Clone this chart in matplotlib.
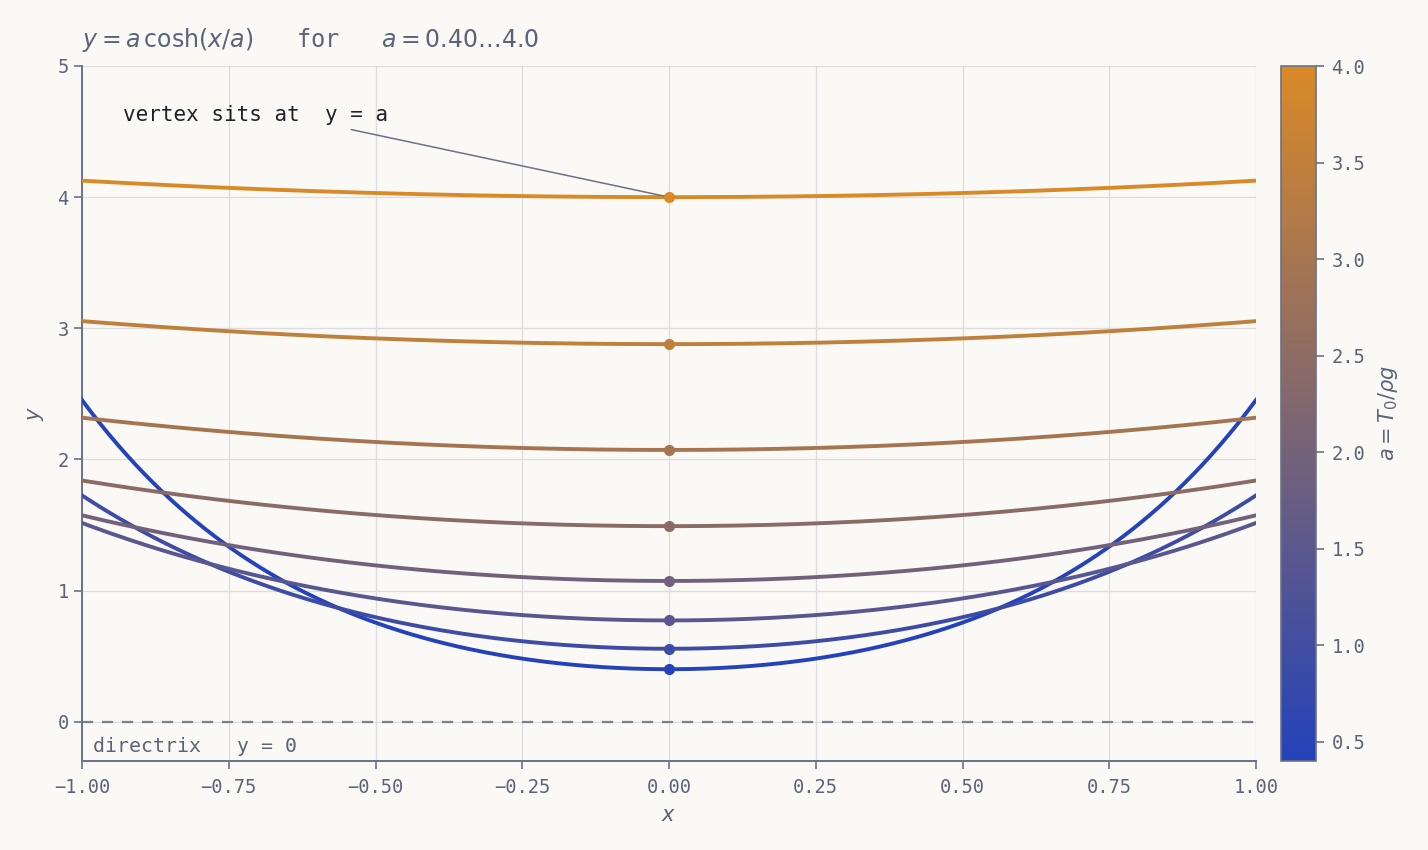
import numpy as np
import matplotlib
matplotlib.use("Agg")
import matplotlib.pyplot as plt
from matplotlib.colors import LinearSegmentedColormap, Normalize
from matplotlib.cm import ScalarMappable

# catenary parameters (a values read from the vertices)
a_values = [0.40, 0.556, 0.772, 1.073, 1.491, 2.072, 2.879, 4.00]
x_range = (-1.0, 1.0)
x_ticks = [-1.0, -0.75, -0.5, -0.25, 0.0, 0.25, 0.5, 0.75, 1.0]
y_ticks = [0, 1, 2, 3, 4, 5]
cbar_ticks = [0.5, 1.0, 1.5, 2.0, 2.5, 3.0, 3.5, 4.0]

BG = "#faf9f6"
TXT = "#5c6377"
SPINE = "#6b7286"

plt.rcParams["font.family"] = ["DejaVu Sans Mono"]
plt.rcParams["mathtext.fontset"] = "dejavusans"

cmap = LinearSegmentedColormap.from_list("bo", ["#2442b9", "#d98a28"])
norm = Normalize(vmin=min(a_values), vmax=max(a_values))

fig = plt.figure(figsize=(14.28, 8.5), dpi=100, facecolor=BG)
ax = fig.add_axes([82 / 1428, 89 / 850, 1174 / 1428, 695 / 850])
cax = fig.add_axes([1281 / 1428, 89 / 850, 35 / 1428, 695 / 850])
ax.set_facecolor(BG)

x = np.linspace(x_range[0], x_range[1], 400)
n = len(a_values)
for i, a in enumerate(a_values):
    # line colour follows the curve's index
    c = cmap(i / (n - 1))
    ax.plot(x, a * np.cosh(x / a), color=c, lw=2.8, zorder=3)
    ax.plot([0], [a], "o", color=c, ms=7, zorder=4)

ax.axhline(0, color="#7a8091", lw=1.6, ls=(0, (5, 4)), zorder=2)
ax.text(-0.982, -0.12, "directrix   y = 0", color=TXT, fontsize=14.3, va="top", ha="left")

ax.annotate("vertex sits at  y = a", xy=(0, a_values[-1]), xytext=(-0.93, 4.626),
            fontsize=15, color="#1f2128", va="center", ha="left",
            arrowprops=dict(arrowstyle="-", color=SPINE, lw=1.1,
                            shrinkA=6, shrinkB=0, relpos=(0.78, 0.0)))

ax.set_xlim(*x_range)
ax.set_ylim(-0.3, 5)
ax.set_xticks(x_ticks)
ax.set_xticklabels([f"{t:.2f}".replace("-", "\u2212") for t in x_ticks])
ax.set_yticks(y_ticks)
ax.grid(True, color="#dcdcde", lw=0.9, zorder=0)
for s in ["top", "right"]:
    ax.spines[s].set_visible(False)
for s in ["left", "bottom"]:
    ax.spines[s].set_color(SPINE)
    ax.spines[s].set_linewidth(1.4)
ax.tick_params(colors=SPINE, labelcolor=TXT, labelsize=13.5, length=6, width=1.2)
ax.tick_params(axis="x", pad=6)

ax.set_xlabel("$x$", fontsize=15, color=TXT, labelpad=6)
ax.set_ylabel("$y$", fontsize=15, color=TXT, labelpad=8)
ax.set_title(r"$y = a\,\cosh(x/a)$   for   $a = 0.40\ldots4.0$",
             loc="left", fontsize=17, color=TXT, pad=14)

sm = ScalarMappable(norm=norm, cmap=cmap)
cb = fig.colorbar(sm, cax=cax, ticks=cbar_ticks)
cb.ax.set_yticklabels([f"{t:.1f}" for t in cbar_ticks])
cb.outline.set_edgecolor(SPINE)
cb.outline.set_linewidth(1.2)
cb.ax.tick_params(colors=SPINE, labelcolor=TXT, labelsize=13.5, length=6, width=1.2, pad=5)
cb.set_label(r"$a = T_0/\rho g$", fontsize=15, color=TXT, labelpad=8)

fig.savefig("out.png", dpi=100, facecolor=BG)
